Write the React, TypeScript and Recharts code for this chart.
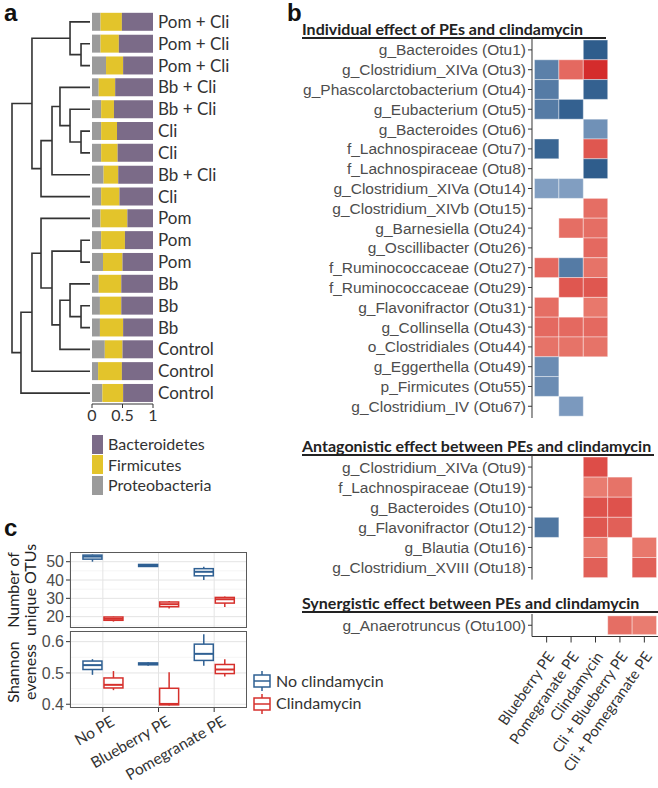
import React from 'react';
import { BarChart, Bar, XAxis, YAxis, ScatterChart, Scatter, CartesianGrid } from 'recharts';

const SANS = 'Lato, "Open Sans", sans-serif';
const ARIAL = '"Liberation Sans", Arial, sans-serif';
const INK = '#333333';
const TICK_GREY = '#4d4d4d';
const BLUE = '#2f6093';
const RED = '#d6302c';

// ---- panel a: samples top to bottom, phylum proportions
const samples = ['Pom + Cli', 'Pom + Cli', 'Pom + Cli', 'Bb + Cli', 'Bb + Cli', 'Cli', 'Cli', 'Bb + Cli', 'Cli',
  'Pom', 'Pom', 'Pom', 'Bb', 'Bb', 'Bb', 'Control', 'Control', 'Control'];
const proteobacteria = [0.14, 0.14, 0.23, 0.11, 0.15, 0.15, 0.15, 0.19, 0.15, 0.14, 0.15, 0.18, 0.11, 0.13, 0.13, 0.21, 0.1, 0.17];
const firmicutes = [0.35, 0.3, 0.28, 0.27, 0.21, 0.26, 0.27, 0.24, 0.3, 0.44, 0.39, 0.32, 0.37, 0.35, 0.38, 0.29, 0.39, 0.34];
const bacteroidetes = [0.51, 0.56, 0.49, 0.62, 0.64, 0.59, 0.58, 0.57, 0.55, 0.42, 0.46, 0.5, 0.52, 0.52, 0.49, 0.5, 0.51, 0.49];

// dendrogram merges [child, child, height]; numbers are rows (1 = top), 'mN' is merge N
const merges: [number | string, number | string, number][] = [
  [2, 3, 0.115],
  [1, 'm0', 0.256],
  [6, 7, 0.115],
  [5, 'm2', 0.256],
  [4, 'm3', 0.385],
  ['m4', 8, 0.487],
  ['m5', 9, 0.628],
  ['m1', 'm6', 0.744],
  [11, 12, 0.115],
  [14, 15, 0.115],
  [13, 'm9', 0.256],
  ['m10', 16, 0.385],
  ['m8', 'm11', 0.487],
  [10, 'm12', 0.628],
  ['m13', 17, 0.744],
  ['m14', 18, 0.885],
  ['m7', 'm15', 1.0],
];

// ---- panel b: log fold changes per column (null = not significant)
const effectCols = ['Blueberry PE', 'Pomegranate PE', 'Clindamycin', 'Cli + Blueberry PE', 'Cli + Pomegranate PE'];
const individualOtus = ['g_Bacteroides (Otu1)', 'g_Clostridium_XIVa (Otu3)', 'g_Phascolarctobacterium (Otu4)',
  'g_Eubacterium (Otu5)', 'g_Bacteroides (Otu6)', 'f_Lachnospiraceae (Otu7)', 'f_Lachnospiraceae (Otu8)',
  'g_Clostridium_XIVa (Otu14)', 'g_Clostridium_XIVb (Otu15)', 'g_Barnesiella (Otu24)', 'g_Oscillibacter (Otu26)',
  'f_Ruminococcaceae (Otu27)', 'f_Ruminococcaceae (Otu29)', 'g_Flavonifractor (Otu31)', 'g_Collinsella (Otu43)',
  'o_Clostridiales (Otu44)', 'g_Eggerthella (Otu49)', 'p_Firmicutes (Otu55)', 'g_Clostridium_IV (Otu67)'];
const individualFc = [
  [null, null, -3.0, null, null],
  [-2.2, 2.2, 3.5, null, null],
  [-2.3, null, -2.9, null, null],
  [-2.3, -2.9, null, null, null],
  [null, null, -1.8, null, null],
  [-2.8, null, 2.6, null, null],
  [null, null, -3.0, null, null],
  [-1.5, -1.5, null, null, null],
  [null, null, 2.1, null, null],
  [null, 2.1, 2.1, null, null],
  [null, null, 2.2, null, null],
  [2.2, -2.3, 2.0, null, null],
  [null, 2.6, 2.6, null, null],
  [2.1, null, 1.9, null, null],
  [2.2, 2.2, 2.2, null, null],
  [2.0, 2.0, 2.0, null, null],
  [-1.9, null, null, null, null],
  [-1.9, null, null, null, null],
  [null, -1.6, null, null, null],
];
const antagonisticOtus = ['g_Clostridium_XIVa (Otu9)', 'f_Lachnospiraceae (Otu19)', 'g_Bacteroides (Otu10)',
  'g_Flavonifractor (Otu12)', 'g_Blautia (Otu16)', 'g_Clostridium_XVIII (Otu18)'];
const antagonisticFc = [
  [null, null, 2.8, null, null],
  [null, null, 1.8, 2.0, null],
  [null, null, 2.7, 2.7, null],
  [-2.4, null, 2.6, 2.4, null],
  [null, null, 1.9, null, 1.9],
  [null, null, 2.4, null, 2.4],
];
const synergisticOtus = ['g_Anaerotruncus (Otu100)'];
const synergisticFc = [[null, null, null, 2.1, 1.8]];

// ---- panel c: boxplot stats [min, q1, median, q3, max]
const boxGroups = ['No PE', 'Blueberry PE', 'Pomegranate PE'];
const otuNoCli = [[50, 51.4, 52.8, 53.6, 53.9], [47.2, 47.4, 48, 48.5, 48.7], [40, 42.3, 44.5, 46.2, 47.2]];
const otuCli = [[17.3, 18, 18.8, 19.8, 20], [24.4, 25.4, 26.8, 28, 28.5], [25.2, 27.4, 29.5, 30.5, 31]];
const evenNoCli = [[0.494, 0.511, 0.525, 0.538, 0.544], [0.523, 0.526, 0.529, 0.532, 0.534], [0.523, 0.54, 0.561, 0.592, 0.624]];
const evenCli = [[0.445, 0.452, 0.462, 0.484, 0.506], [0.396, 0.398, 0.401, 0.451, 0.502], [0.489, 0.498, 0.511, 0.527, 0.544]];

function dendroSegments() {
  const pos = new Map<string, { y: number; h: number }>();
  const get = (k: number | string) => (typeof k === 'number' ? { y: k, h: 0 } : pos.get(k)!);
  const segs: { x: number; y: number }[][] = [];
  merges.forEach(([a, b, h], i) => {
    const A = get(a);
    const B = get(b);
    // elbow: child -> up to merge height -> across to other child -> back down
    segs.push([{ x: A.h, y: A.y }, { x: h, y: A.y }, { x: h, y: B.y }, { x: B.h, y: B.y }]);
    pos.set('m' + i, { y: (A.y + B.y) / 2, h });
  });
  return segs;
}

function mix(c1: string, c2: string, t: number) {
  const p = (c: string, i: number) => parseInt(c.slice(1 + i * 2, 3 + i * 2), 16);
  const ch = [0, 1, 2].map((i) => Math.round(p(c1, i) + (p(c2, i) - p(c1, i)) * t));
  return `rgb(${ch.join(',')})`;
}
const clamp = (t: number) => Math.max(0, Math.min(1, t));
function tileColor(v: number) {
  if (v < 0) return mix('#86a2c5', '#2f5d8c', clamp((-v - 1.4) / 1.6));
  return mix('#ea8174', '#d42c2c', clamp((v - 1.7) / 1.8));
}

const HM_PLOT_W = 127;
const HM_AXIS_W = 242;

function ColTick(props: any) {
  const { x, y, payload } = props;
  const ax = x + 4;
  const ay = y + 9;
  return (
    <text x={ax} y={ay} dy="0.35em" textAnchor="end" transform={`rotate(-55 ${ax} ${ay})`}
      fontSize={15} fontFamily={SANS} fill={INK}>
      {effectCols[payload.value]}
    </text>
  );
}

function HeatSection({ labels, fc, top, rowH, withAxis }: any) {
  const n = labels.length;
  const plotH = rowH * (n + 0.2);
  const tileW = HM_PLOT_W / 5.2;
  const cells: { x: number; y: number; v: number }[] = [];
  fc.forEach((row: (number | null)[], r: number) =>
    row.forEach((v, c) => {
      if (v !== null) cells.push({ x: c, y: r, v });
    }),
  );
  const axisH = withAxis ? 150 : 0;
  return (
    <div style={{ position: 'absolute', left: 290, top }}>
      <ScatterChart width={HM_AXIS_W + HM_PLOT_W} height={plotH + axisH} margin={{ top: 0, right: 0, bottom: 0, left: 0 }}>
        <XAxis type="number" dataKey="x" domain={[-0.6, 4.6]} ticks={[0, 1, 2, 3, 4]} interval={0} hide={!withAxis}
          height={axisH} tickSize={6} axisLine={{ stroke: INK }} tickLine={{ stroke: INK }} tick={<ColTick />} />
        <YAxis type="number" dataKey="y" domain={[-0.6, n - 0.4]} reversed ticks={labels.map((_: string, i: number) => i)}
          interval={0} width={HM_AXIS_W} tickSize={4} axisLine={{ stroke: INK }} tickLine={{ stroke: INK }}
          tickFormatter={(v: number) => labels[v]} tick={{ fill: TICK_GREY, fontSize: 15.5, fontFamily: ARIAL }} />
        <Scatter data={cells} isAnimationActive={false}
          shape={(p: any) => (
            <rect x={p.cx - tileW / 2} y={p.cy - rowH / 2} width={tileW} height={rowH} fill={tileColor(p.payload.v)}
              stroke="#ffffff" strokeOpacity={0.4} strokeWidth={1} />
          )} />
      </ScatterChart>
    </div>
  );
}

const makeBox = (statsKey: string, color: string) => (props: any) => {
  const { x, y, width, height, payload } = props;
  const [mn, q1, md, q3, mx] = payload[statsKey];
  const top = Math.min(y, y + height);
  const h = Math.abs(height);
  const py = (v: number) => top + (h * (mx - v)) / (mx - mn);
  const cx = x + width / 2;
  return (
    <g>
      <line x1={cx} x2={cx} y1={py(mx)} y2={py(q3)} stroke={color} strokeWidth={1.5} />
      <line x1={cx} x2={cx} y1={py(q1)} y2={py(mn)} stroke={color} strokeWidth={1.5} />
      <rect x={x + 1} y={py(q3)} width={width - 2} height={Math.max(py(q1) - py(q3), 1)} fill="#ffffff" stroke={color} strokeWidth={1.5} />
      <line x1={x + 1} x2={x + width - 1} y1={py(md)} y2={py(md)} stroke={color} strokeWidth={2} />
    </g>
  );
};

function GroupTick(props: any) {
  const { x, y, payload } = props;
  const ax = x + 10;
  const ay = y + 6;
  return (
    <text x={ax} y={ay} dy="0.35em" textAnchor="end" transform={`rotate(-30 ${ax} ${ay})`}
      fontSize={15.5} fontFamily={SANS} fill={INK}>
      {payload.value}
    </text>
  );
}

function BoxPanel({ noCli, cli, domain, major, minor, top, plotH, withAxis }: any) {
  const rows = boxGroups.map((g, i) => ({
    group: g,
    a: [noCli[i][0], noCli[i][4]],
    b: [cli[i][0], cli[i][4]],
    aStats: noCli[i],
    bStats: cli[i],
  }));
  const axisH = withAxis ? 78 : 0;
  return (
    <>
      <div style={{ position: 'absolute', left: 20, top }}>
        <BarChart data={rows} width={227} height={plotH + axisH} margin={{ top: 0, right: 0, bottom: 0, left: 0 }}
          barCategoryGap="12.5%" barGap={0}>
          <CartesianGrid horizontalValues={minor} vertical={false} stroke="#f3f3f3" strokeWidth={0.8} />
          <CartesianGrid horizontalValues={major} stroke="#e4e4e4" strokeWidth={1} />
          <XAxis dataKey="group" padding={{ left: 5, right: 5 }} hide={!withAxis} height={axisH} interval={0}
            tickSize={4} axisLine={false} tickLine={{ stroke: INK }} tick={<GroupTick />} />
          <YAxis type="number" domain={domain} ticks={major} interval={0} width={50} tickSize={4} axisLine={false}
            tickLine={{ stroke: INK }} tick={{ fill: TICK_GREY, fontSize: 16, fontFamily: ARIAL }} />
          <Bar dataKey="a" isAnimationActive={false} shape={makeBox('aStats', BLUE)} />
          <Bar dataKey="b" isAnimationActive={false} shape={makeBox('bStats', RED)} />
        </BarChart>
      </div>
      <div style={{ position: 'absolute', left: 70, top, width: 177, height: plotH, border: '1px solid #5a5a5a', boxSizing: 'border-box' }} />
    </>
  );
}

function BoxIcon({ color }: { color: string }) {
  return (
    <svg width={18} height={20} style={{ display: 'block' }}>
      <line x1={9} x2={9} y1={0} y2={20} stroke={color} strokeWidth={1.5} />
      <rect x={1} y={4} width={16} height={12} fill="#fff" stroke={color} strokeWidth={1.5} />
      <line x1={1} x2={17} y1={10} y2={10} stroke={color} strokeWidth={1.5} />
    </svg>
  );
}

const abs = (left: number, top: number, extra: React.CSSProperties = {}): React.CSSProperties => ({
  position: 'absolute', left, top, ...extra,
});

const NoDot = () => <g />;

export default function App() {
  const segs = dendroSegments();
  const phylumRows = samples.map((s, i) => ({ id: i, p: proteobacteria[i], f: firmicutes[i], b: bacteroidetes[i] }));
  const titleStyle: React.CSSProperties = { fontFamily: SANS, fontWeight: 700, fontSize: 16, color: '#222', lineHeight: '16px', whiteSpace: 'nowrap' };
  const panelLabel: React.CSSProperties = { fontFamily: ARIAL, fontWeight: 700, fontSize: 24, color: '#111', lineHeight: '19px' };
  const legendText: React.CSSProperties = { fontFamily: SANS, fontSize: 16, color: INK, lineHeight: '20px', whiteSpace: 'nowrap' };

  return (
    <div style={{ position: 'absolute', left: 0, top: 0, width: 658, height: 788, overflow: 'hidden', background: '#fff' }}>
      {/* panel a */}
      <div style={abs(4, 3, panelLabel)}>a</div>
      <div style={abs(10, 11)}>
        <ScatterChart width={82} height={393} margin={{ top: 0, right: 2, bottom: 0, left: 2 }}>
          <XAxis type="number" dataKey="x" domain={[0, 1]} reversed hide />
          <YAxis type="number" dataKey="y" domain={[0.5, 18.5]} reversed hide />
          {segs.map((s, i) => (
            <Scatter key={i} data={s} isAnimationActive={false} shape={NoDot}
              line={{ stroke: INK, strokeWidth: 1.6 }} lineJointType="linear" />
          ))}
        </ScatterChart>
      </div>
      <div style={abs(80, 0)}>
        <BarChart layout="vertical" data={phylumRows} width={163} height={434} margin={{ top: 11, right: 0, bottom: 0, left: 12 }}
          barCategoryGap={1.8}>
          <XAxis type="number" domain={[0, 1]} ticks={[0, 0.5, 1]} tickSize={4} height={30} axisLine={{ stroke: INK }}
            tickLine={{ stroke: INK }} tick={{ fill: INK, fontSize: 16, fontFamily: SANS }} />
          <YAxis type="category" dataKey="id" orientation="right" width={90} axisLine={false} tickLine={false} tickSize={0}
            tickMargin={5} interval={0} tickFormatter={(v: number) => samples[v]}
            tick={{ fill: INK, fontSize: 17, fontFamily: SANS, textAnchor: 'start' }} />
          <Bar dataKey="p" stackId="s" fill="#9b9b9b" isAnimationActive={false} />
          <Bar dataKey="f" stackId="s" fill="#e3c42b" isAnimationActive={false} />
          <Bar dataKey="b" stackId="s" fill="#7b6b88" isAnimationActive={false} />
        </BarChart>
      </div>
      {[['Bacteroidetes', '#7b6b88'], ['Firmicutes', '#e3c42b'], ['Proteobacteria', '#9b9b9b']].map(([name, col], i) => (
        <React.Fragment key={name}>
          <div style={abs(92, 434.5 + i * 20.5, { width: 11, height: 19, background: col })} />
          <div style={abs(108, 434 + i * 20.5, legendText)}>{name}</div>
        </React.Fragment>
      ))}

      {/* panel b */}
      <div style={abs(287, 3, panelLabel)}>b</div>
      <div style={abs(302, 21, titleStyle)}>Individual effect of PEs and clindamycin</div>
      <div style={abs(302, 37, { width: 304, height: 1.5, background: '#222' })} />
      <HeatSection labels={individualOtus} fc={individualFc} top={38} rowH={19.8} withAxis={false} />
      <div style={abs(302, 438, titleStyle)}>Antagonistic effect between PEs and clindamycin</div>
      <div style={abs(302, 454, { width: 352, height: 1.5, background: '#222' })} />
      <HeatSection labels={antagonisticOtus} fc={antagonisticFc} top={455} rowH={20.1} withAxis={false} />
      <div style={abs(302, 595, titleStyle)}>Synergistic effect between PEs and clindamycin</div>
      <div style={abs(302, 611, { width: 356, height: 1.5, background: '#222' })} />
      <HeatSection labels={synergisticOtus} fc={synergisticFc} top={614} rowH={18.75} withAxis />

      {/* panel c */}
      <div style={abs(4, 518, panelLabel)}>c</div>
      <div style={abs(21, 590, { transform: 'translate(-50%, -50%) rotate(-90deg)', fontFamily: SANS, fontSize: 16, lineHeight: '17px', color: '#222', textAlign: 'center', whiteSpace: 'nowrap' })}>
        Number of<br />unique OTUs
      </div>
      <div style={abs(21, 672, { transform: 'translate(-50%, -50%) rotate(-90deg)', fontFamily: SANS, fontSize: 16, lineHeight: '17px', color: '#222', textAlign: 'center', whiteSpace: 'nowrap' })}>
        Shannon<br />eveness
      </div>
      <BoxPanel noCli={otuNoCli} cli={otuCli} domain={[13.8, 55.3]} major={[20, 30, 40, 50]} minor={[15, 25, 35, 45, 55]}
        top={552} plotH={76} withAxis={false} />
      <BoxPanel noCli={evenNoCli} cli={evenCli} domain={[0.388, 0.634]} major={[0.4, 0.5, 0.6]} minor={[0.45, 0.55]}
        top={631} plotH={77} withAxis />
      <div style={abs(253, 671)}><BoxIcon color={BLUE} /></div>
      <div style={abs(276, 671, legendText)}>No clindamycin</div>
      <div style={abs(253, 694)}><BoxIcon color={RED} /></div>
      <div style={abs(276, 693, legendText)}>Clindamycin</div>
    </div>
  );
}
